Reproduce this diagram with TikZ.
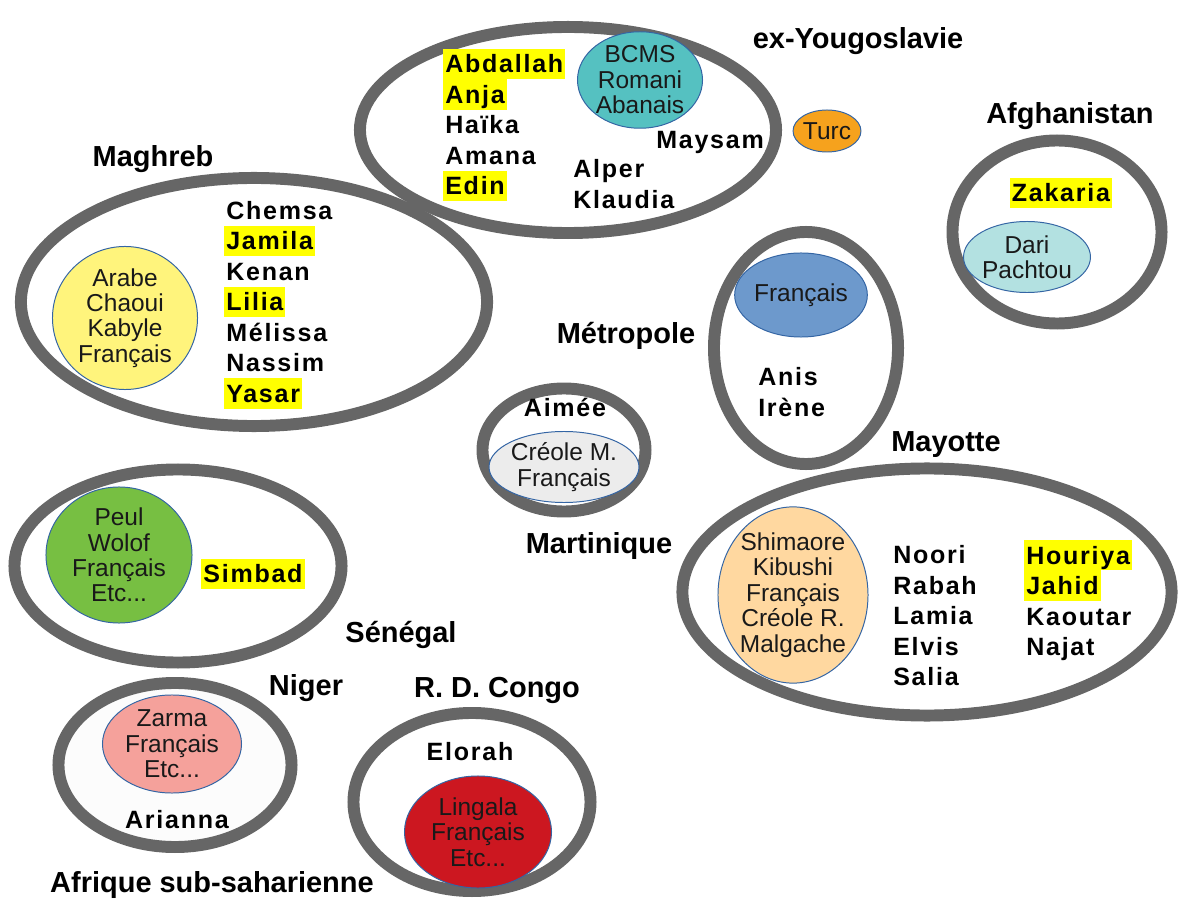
\documentclass[tikz,border=0pt]{standalone}
\usepackage{fontspec}
\setmainfont{Liberation Sans}
\newfontfamily\namefamily{Liberation Sans}[LetterSpace=7]
\usetikzlibrary{shapes.geometric}

\definecolor{ringgray}{HTML}{666666}
\definecolor{langline}{HTML}{3465A4}
\definecolor{hlyellow}{HTML}{FFFF00}
\definecolor{cTeal}{HTML}{55C1C1}
\definecolor{cOrange}{HTML}{F6A21D}
\definecolor{cYellow}{HTML}{FFF47C}
\definecolor{cLightGray}{HTML}{ECECEC}
\definecolor{cBlue}{HTML}{6D99CC}
\definecolor{cCyan}{HTML}{B3E1E1}
\definecolor{cPeach}{HTML}{FFD8A0}
\definecolor{cGreen}{HTML}{77BF42}
\definecolor{cPink}{HTML}{F5A19B}
\definecolor{cRed}{HTML}{CC1720}

% one line of a name column, highlighted or not
\newcommand{\namestrut}{\rule[-4.5pt]{0pt}{21.7pt}}
\newcommand{\nm}[1]{\namestrut#1}
\newcommand{\hl}[1]{\hspace*{-1.5pt}{\setlength{\fboxsep}{0pt}\colorbox{hlyellow}{\namestrut\hspace{1.5pt}#1\hspace{1.5pt}}}}

\tikzset{
  ring/.style={ellipse, draw=ringgray, line width=8.5pt, inner sep=0pt},
  lang/.style={ellipse, draw=langline, line width=0.7pt, inner sep=0pt, align=center,
    text=black!90, font=\fontsize{17.4}{18.1}\selectfont},
  names/.style={anchor=west, align=left, inner sep=0pt,
    font=\namefamily\bfseries\fontsize{17.8}{21.7}\selectfont},
  place/.style={inner sep=0pt, text height=14.6pt, text depth=0pt,
    font=\bfseries\fontsize{20.6}{24}\selectfont}
}

\begin{document}
\begin{tikzpicture}[x=0.025cm, y=-0.025cm]
  \useasboundingbox (0,0) rectangle (1179,899);

  % Rings
  \node[ring, minimum width=10.4cm, minimum height=5.15cm] (yougo) at (568,130) {};
  \node[ring, minimum width=11.65cm, minimum height=6.2cm] (maghreb) at (254,302) {};
  \node[ring, minimum width=4.075cm, minimum height=3.075cm] (martinique) at (564,450) {};
  \node[ring, minimum width=4.6cm, minimum height=5.8cm] (metropole) at (806,348) {};
  \node[ring, minimum width=5.225cm, minimum height=4.575cm] (afghan) at (1057,232) {};
  \node[ring, minimum width=12.225cm, minimum height=6.175cm] (mayotte) at (927,592) {};
  \node[ring, minimum width=8.175cm, minimum height=4.825cm] (senegal) at (178,566) {};
  \node[ring, fill=gray!2, minimum width=5.825cm, minimum height=4.1cm] (niger) at (175,765) {};
  \node[ring, minimum width=5.925cm, minimum height=4.45cm] (congo) at (472,802) {};

  % Languages
  \node[lang, fill=cTeal, minimum width=3.125cm, minimum height=2.375cm] (bcms) at (640,80) {BCMS\\Romani\\Abanais};
  \node[lang, fill=cOrange, minimum width=1.6cm, minimum height=1.05cm] (turc) at (827,131) {Turc};
  \node[lang, fill=cYellow, minimum width=3.625cm, minimum height=3.575cm] (arabe) at (125,318) {Arabe\\Chaoui\\Kabyle\\Français};
  \node[lang, fill=cLightGray, minimum width=3.125cm, minimum height=1.775cm] (creoleM) at (564,467) {Créole M.\\Français};
  \node[lang, fill=cBlue, minimum width=3.175cm, minimum height=2.1cm] (francais) at (801,295) {Français};
  \node[lang, fill=cCyan, minimum width=2.75cm, minimum height=1.775cm] (dari) at (1027,257) {Dari\\Pachtou};
  \node[lang, fill=cPeach, minimum width=3.625cm, minimum height=4.325cm] (shimaore) at (793,595) {Shimaore\\Kibushi\\Français\\Créole R.\\Malgache};
  \node[lang, fill=cGreen, minimum width=3.65cm, minimum height=3.4cm] (peul) at (119,555) {Peul\\Wolof\\Français\\Etc...};
  \node[lang, fill=cPink, minimum width=3.475cm, minimum height=2.45cm] (zarma) at (172,744) {Zarma\\Français\\Etc...};
  \node[lang, fill=cRed, minimum width=3.675cm, minimum height=2.8cm] (lingala) at (478,832) {Lingala\\Français\\Etc...};

  % Names
  \node[names] (yougoA) at (445,125) {\hl{Abdallah}\\\hl{Anja}\\\nm{Haïka}\\\nm{Amana}\\\hl{Edin}};
  \node[names] (yougoB) at (573,184) {\nm{Alper}\\\nm{Klaudia}};
  \node[names] (maysam) at (656,140) {\nm{Maysam}};
  \node[names] (maghrebA) at (226,302) {\nm{Chemsa}\\\hl{Jamila}\\\nm{Kenan}\\\hl{Lilia}\\\nm{Mélissa}\\\nm{Nassim}\\\hl{Yasar}};
  \node[names, anchor=center] (aimee) at (565,408) {\nm{Aimée}};
  \node[names] (metroA) at (758,392) {\nm{Anis}\\\nm{Irène}};
  \node[names, anchor=center] (zakaria) at (1062,193) {\hl{Zakaria}};
  \node[names] (mayotteA) at (893,616) {\nm{Noori}\\\nm{Rabah}\\\nm{Lamia}\\\nm{Elvis}\\\nm{Salia}};
  \node[names] (mayotteB) at (1026,601) {\hl{Houriya}\\\hl{Jahid}\\\nm{Kaoutar}\\\nm{Najat}};
  \node[names, anchor=center] (simbad) at (254,574) {\hl{Simbad}};
  \node[names, anchor=center] (arianna) at (177,820) {\nm{Arianna}};
  \node[names, anchor=center] (elorah) at (470,752) {\nm{Elorah}};

  % Places
  \node[place] (lYougo) at (858,38) {ex-Yougoslavie};
  \node[place] (lAfghan) at (1070,113) {Afghanistan};
  \node[place] (lMaghreb) at (153,156) {Maghreb};
  \node[place] (lMetro) at (626,333) {Métropole};
  \node[place] (lMayotte) at (946,441) {Mayotte};
  \node[place] (lMartinique) at (599,543) {Martinique};
  \node[place] (lSenegal) at (401,632) {Sénégal};
  \node[place] (lNiger) at (306,685) {Niger};
  \node[place] (lCongo) at (497,687) {R. D. Congo};
  \node[place] (lAfrique) at (212,882) {Afrique sub-saharienne};
\end{tikzpicture}
\end{document}
